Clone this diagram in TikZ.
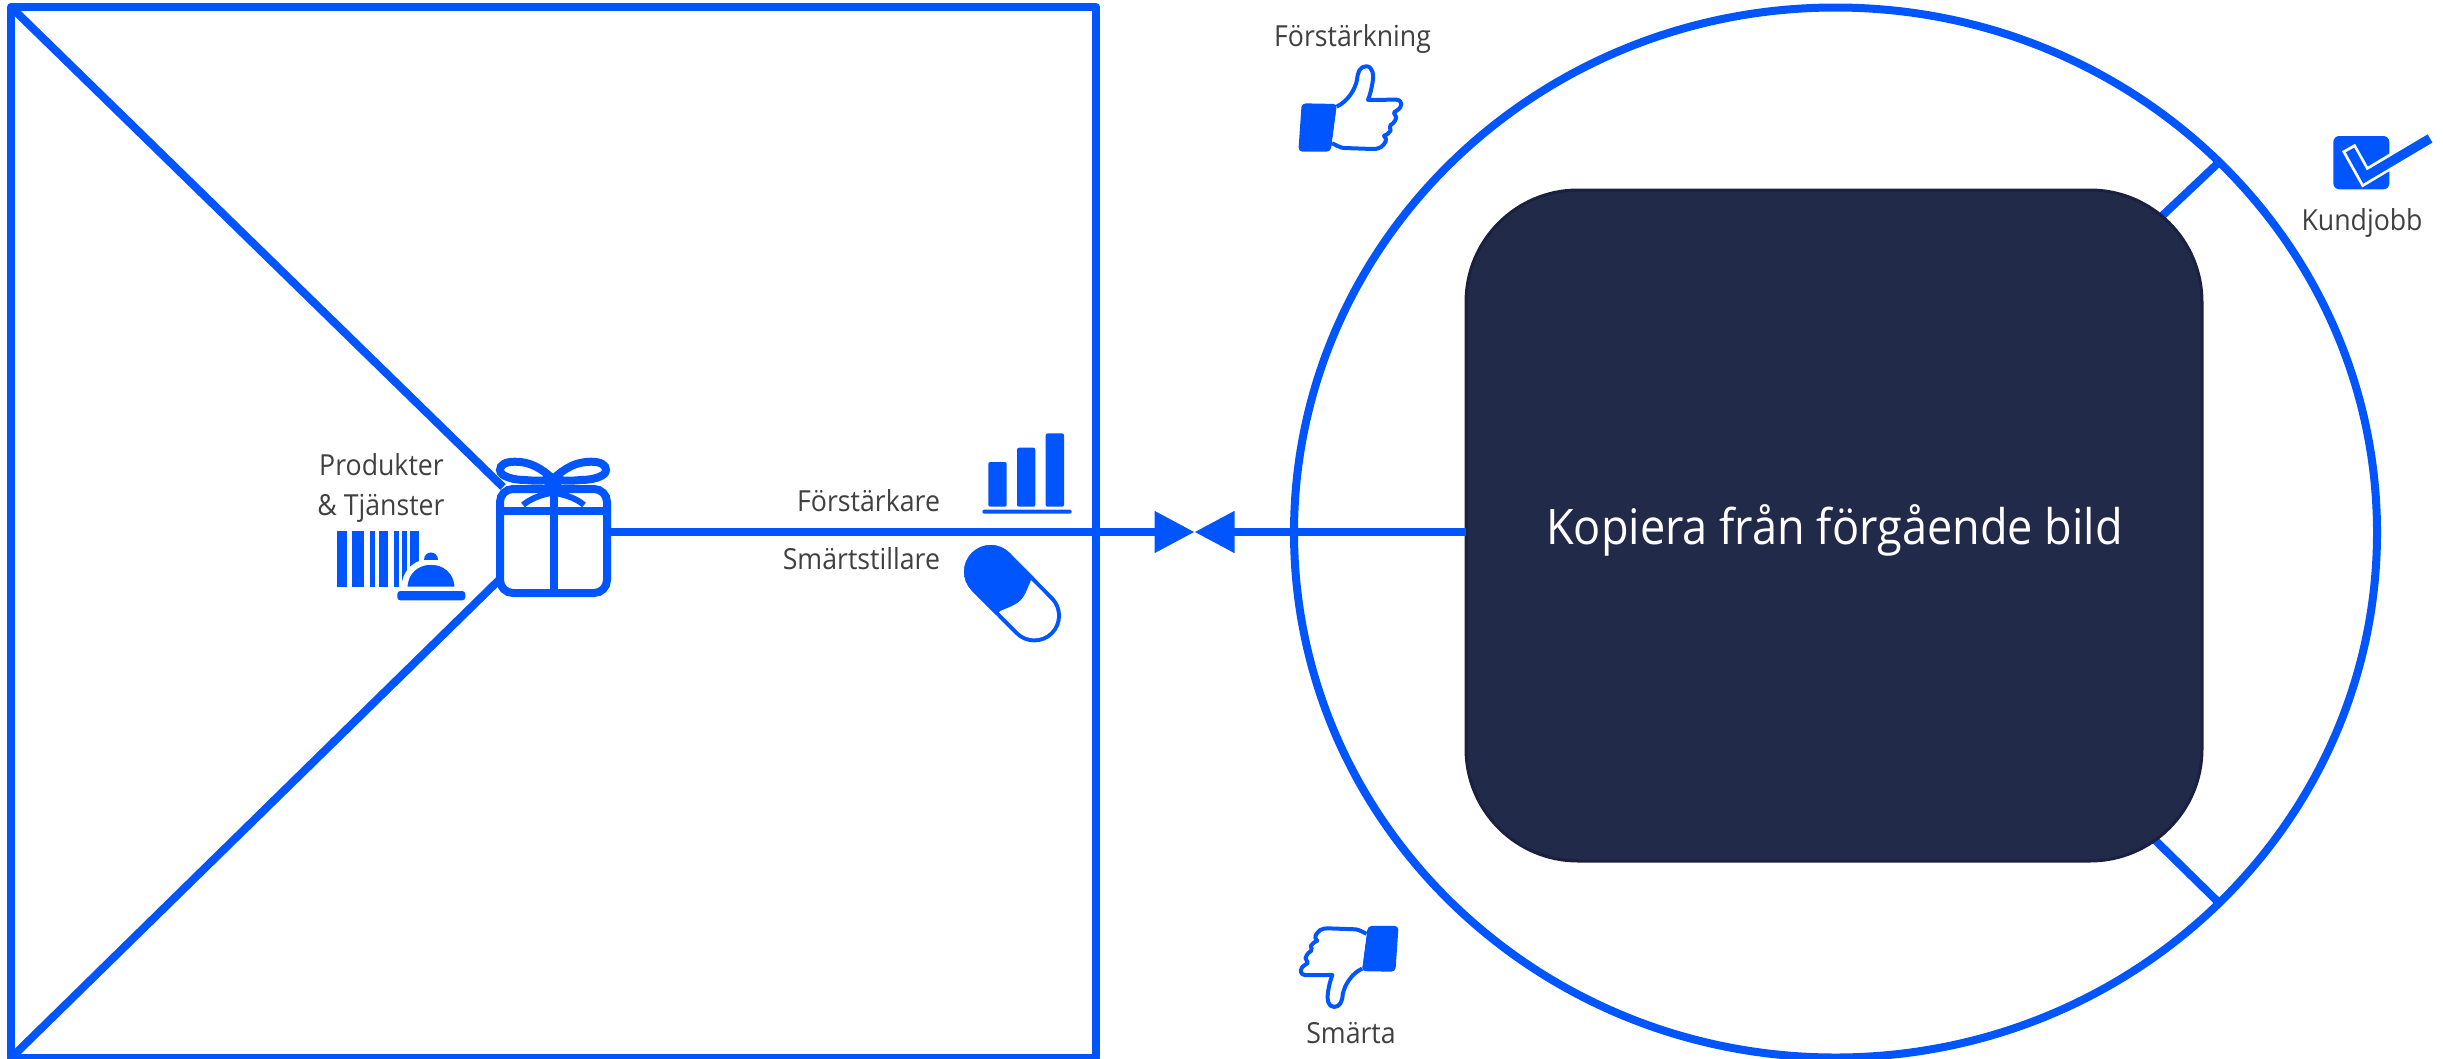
\documentclass[tikz,border=0pt]{standalone}
\usepackage{fontspec}
\setmainfont[FakeStretch=0.92]{Open Sans}
\usetikzlibrary{shapes.geometric,arrows.meta,backgrounds}
\definecolor{bblue}{HTML}{0055FF}
\definecolor{navy}{HTML}{222A4A}
\definecolor{navyedge}{HTML}{1A2040}
\definecolor{txt}{HTML}{404040}
\tikzset{
  frameline/.style={draw=bblue,line width=8pt},
  conn/.style={draw=bblue,line width=8pt},
  tipconn/.style={conn,-{Triangle[length=40pt,width=40pt,color=bblue]}},
  lab/.style={text=txt,font=\fontsize{29}{34}\selectfont,inner sep=0pt,outer sep=0pt},
  iconline/.style={draw=bblue,line width=4pt,line join=round},
  giftline/.style={draw=bblue,line width=8pt,line cap=round},
}
\newcommand{\thumbicon}{%
  \fill[bblue,rounded corners=4pt] (125,310) -- (232,312) -- (212,455) -- (115,455) -- cycle;
  \draw[iconline,fill=white] (230,320)
    .. controls (262,305) and (285,270) .. (291,240)
    .. controls (293,215) and (300,200) .. (318,199)
    .. controls (338,198) and (342,225) .. (338,245)
    .. controls (335,265) and (330,285) .. (324,300)
    -- (408,299)
    .. controls (428,300) and (430,320) .. (410,332)
    .. controls (400,338) and (400,340) .. (405,345)
    .. controls (416,352) and (400,372) .. (392,375)
    .. controls (386,380) and (392,385) .. (392,392)
    .. controls (388,400) and (378,405) .. (372,408)
    .. controls (385,418) and (375,432) .. (362,442)
    .. controls (355,447) and (345,447) .. (335,447)
    -- (250,444)
    .. controls (238,442) and (228,435) .. (216,430);
}
\begin{document}
\begin{tikzpicture}[x=1pt,y=-1pt]
\useasboundingbox (0,0) rectangle (2443,1058);
% main shapes
\node[ellipse,frameline,minimum width=1083pt,minimum height=1050pt,inner sep=0pt,outer sep=0pt] (circ) at (1835.5,532.5) {};
\node[rectangle,frameline,minimum width=1085pt,minimum height=1051pt,inner sep=0pt,outer sep=0pt,line join=round] (sq) at (553.5,532.5) {};
\node[rectangle,rounded corners=112pt,fill=navy,draw=navyedge,line width=3pt,minimum width=736pt,minimum height=671pt,inner sep=0pt,outer sep=0pt] (core) at (1834,525.5) {};
\node[text=white,font=\fontsize{49}{58}\selectfont,inner sep=0pt] (coretext) at (1834.5,530.5) {Kopiera från förgående bild};
% gift node
\coordinate (gifttl) at (503,487);
\coordinate (giftbl) at (500,579);
\draw[conn] (sq.north west) -- (gifttl);
\draw[conn] (sq.south west) -- (giftbl);
\node[rectangle,rounded corners=13pt,fill=white,draw=bblue,line width=8pt,minimum width=107pt,minimum height=104pt,inner sep=0pt,outer sep=0pt] (gift) at (553.5,541) {};
\draw[draw=bblue,line width=8pt] (gift.north) -- (gift.south);
\draw[draw=bblue,line width=8pt] (500,510.5) -- (607,510.5);
\draw[giftline,fill=white] (553,479) .. controls (541,468) and (530,461.7) .. (515,461.7) .. controls (505,461.7) and (500,465) .. (500,470) .. controls (500,477) and (515,480) .. (525,480) .. controls (535,481) and (545,481) .. (553,479);
\draw[giftline,fill=white] (553,479) .. controls (565,468) and (576,461.7) .. (591,461.7) .. controls (601,461.7) and (606,465) .. (606,470) .. controls (606,477) and (591,480) .. (581,480) .. controls (571,481) and (561,481) .. (553,479);
\fill[bblue] (553,481) ellipse (10pt and 7pt);
\draw[draw=bblue,line width=6pt] (523,505) .. controls (530,499) and (540,495) .. (551,493);
\draw[draw=bblue,line width=6pt] (584,505) .. controls (577,499) and (567,495) .. (555,493);
% connectors
\coordinate (meet) at (1194.5,532);
\draw[tipconn] (gift.east |- meet) -- (meet);
\draw[tipconn] (core.west |- meet) -- (meet);
\begin{scope}[on background layer]
\draw[conn] (circ.44.09) -- (core.center);
\draw[conn] (circ.-44.09) -- (core.center);
\end{scope}
% labels
\node[lab,anchor=base] (l1) at (381.5,475) {Produkter};
\node[lab,anchor=base] (l2) at (381,515) {\& Tjänster};
\node[lab,anchor=base east] (l3) at (940,511.7) {Förstärkare};
\node[lab,anchor=base east] (l4) at (940,569) {Smärtstillare};
\node[lab,anchor=base] (l5) at (1352.5,46.7) {Förstärkning};
\node[lab,anchor=base] (l6) at (2362,230) {Kundjobb};
\node[lab,anchor=base] (l7) at (1351,1043) {Smärta};
% barcode + bell
\foreach \a/\b in {337/346.7,351.7/364,370/375,379.3/388,394/399.3,402.3/406.7,410/419}
  \fill[bblue] (\a,531) rectangle (\b,586.7);
\path[fill=bblue,draw=white,line width=6pt] (404.3,589.7) .. controls (404.3,570) and (418,561.7) .. (431,561.7) .. controls (444,561.7) and (457.7,570) .. (457.7,589.7) -- cycle;
\fill[white] (398,587) rectangle (466,594);
\fill[bblue] (424,559.5) .. controls (424,550) and (438,550) .. (438,559.5) -- cycle;
\fill[bblue,rounded corners=3pt] (397.3,591) rectangle (465.3,600.3);
% bar chart
\fill[bblue,rounded corners=2pt] (988.3,462) rectangle (1006.7,506.7);
\fill[bblue,rounded corners=2pt] (1017,447.7) rectangle (1035.3,506.7);
\fill[bblue,rounded corners=2pt] (1045.7,433.3) rectangle (1064,506.7);
\fill[bblue,rounded corners=2pt] (982.3,509.7) rectangle (1071.7,513.7);
% pill
\draw[bblue,line width=53.4pt,line cap=round] (990.7,571.7) -- (1034.3,615.7);
\draw[white,line width=45.4pt,line cap=round] (990.7,571.7) -- (1034.3,615.7);
\begin{scope}
\clip (1040.7,570.7) -- (1030.7,580.7) .. controls (1022,602) .. (1000,611) -- (990,621) -- (930,561) -- (980.7,510.7) -- cycle;
\draw[bblue,line width=53.4pt,line cap=round] (990.7,571.7) -- (1034.3,615.7);
\end{scope}
% thumbs
\begin{scope}[shift={(1350.5,108.3)},scale=0.3333,shift={(-271.5,-325)}]
\thumbicon
\end{scope}
\begin{scope}[shift={(1349,967)},rotate=180,scale=0.3167,shift={(-271.5,-325)}]
\thumbicon
\end{scope}
% check box
\fill[bblue,rounded corners=6pt] (2333.3,136) rectangle (2389.3,189.3);
\draw[white,line width=15pt,miter limit=10] (2348.5,147.5) -- (2365,177) -- (2400,156);
\draw[bblue,line width=9.5pt,miter limit=10] (2350,150) -- (2365,177) -- (2430,138.5);
\end{tikzpicture}
\end{document}
